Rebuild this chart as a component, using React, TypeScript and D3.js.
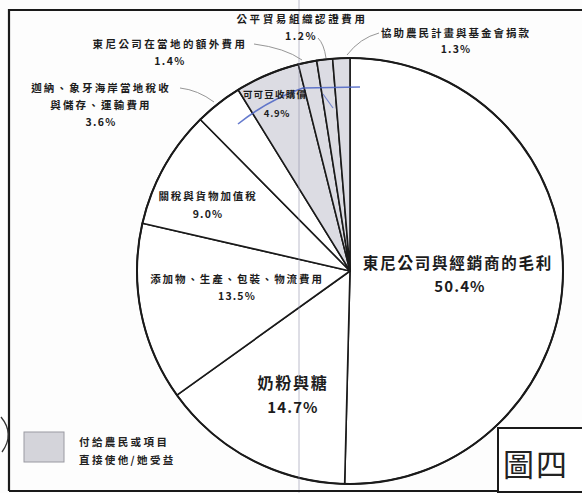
import React from "react";
import * as d3 from "d3";

// ---- data (clockwise from 12 o'clock) ----
const categories = [
  "東尼公司與經銷商的毛利",
  "奶粉與糖",
  "添加物、生產、包裝、物流費用",
  "關稅與貨物加值稅",
  "迦納、象牙海岸當地稅收與儲存、運輸費用",
  "可可豆收購價",
  "東尼公司在當地的額外費用",
  "公平貿易組織認證費用",
  "協助農民計畫與基金會捐款",
];
const categoryLines = [
  ["東尼公司與經銷商的毛利"],
  ["奶粉與糖"],
  ["添加物、生產、包裝、物流費用"],
  ["關稅與貨物加值稅"],
  ["迦納、象牙海岸當地稅收", "與儲存、運輸費用"],
  ["可可豆收購價"],
  ["東尼公司在當地的額外費用"],
  ["公平貿易組織認證費用"],
  ["協助農民計畫與基金會捐款"],
];
const values = [50.4, 14.7, 13.5, 9.0, 3.6, 4.9, 1.4, 1.2, 1.3];
const benefitsFarmers = [false, false, false, false, false, true, true, true, true];
const legendLines = ["付給農民或項目", "直接使他/她受益"];
const figureTitle = "圖四";

// ---- layout ----
const W = 582;
const H = 493;
const CX = 350;
const CY = 271;
const R = 213;
const FONT = "'Noto Sans CJK TC', 'Noto Sans CJK SC', sans-serif";

type LabelLayout = {
  x: number;
  y: number;
  fs: number;
  lh: number;
  px: number;
  py: number;
  pfs: number;
  ls: number;
  leader?: [number, number, number, number, number, number];
};

const labelLayout: LabelLayout[] = [
  { x: 458, y: 262, fs: 15.5, lh: 0, px: 460, py: 285, pfs: 15, ls: 1.8 },
  { x: 293, y: 382, fs: 16, lh: 0, px: 293, py: 406, pfs: 15, ls: 1.8 },
  { x: 237, y: 278, fs: 10.5, lh: 0, px: 237, py: 295, pfs: 10.5, ls: 1.9 },
  { x: 208, y: 195, fs: 10.5, lh: 0, px: 208, py: 213, pfs: 10.5, ls: 1.9 },
  { x: 101, y: 87, fs: 10.5, lh: 17, px: 101, py: 121, pfs: 10.5, ls: 2.2, leader: [180, 88, 198, 90, 214, 102] },
  { x: 275, y: 94, fs: 9.5, lh: 0, px: 277, py: 113, pfs: 9.5, ls: 1.2 },
  { x: 170, y: 43, fs: 10.5, lh: 0, px: 170, py: 60, pfs: 10.5, ls: 2.4, leader: [254, 44, 285, 48, 302, 60] },
  { x: 302, y: 18, fs: 10.5, lh: 0, px: 301, py: 35, pfs: 10.5, ls: 2.6, leader: [318, 38, 324, 44, 326, 58] },
  { x: 456, y: 32, fs: 10.5, lh: 0, px: 456, py: 48, pfs: 10.5, ls: 2.0, leader: [379, 33, 360, 38, 347, 55] },
];

export default function App() {
  const pie = d3
    .pie<number>()
    .sort(null)
    .startAngle(0)
    .endAngle(2 * Math.PI)
    .value((d) => d);
  const arcs = pie(values);
  const arcGen = d3.arc<d3.PieArcDatum<number>>().innerRadius(0).outerRadius(R);

  return (
    <svg
      width={W}
      height={H}
      viewBox={`0 0 ${W} ${H}`}
      style={{ position: "absolute", left: 0, top: 0, background: "#fdfdfd" }}
      fontFamily={FONT}
    >
      <rect x={0} y={0} width={W} height={H} fill="#fdfdfd" />

      {/* pie */}
      <g transform={`translate(${CX},${CY})`}>
        {arcs.map((a, i) => (
          <path
            key={categories[i]}
            d={arcGen(a) || ""}
            fill={benefitsFarmers[i] ? "#dcdce3" : "#ffffff"}
            stroke="#1a1a1a"
            strokeWidth={1.6}
            strokeLinejoin="round"
          />
        ))}
        <circle r={R} fill="none" stroke="#1a1a1a" strokeWidth={2} />
      </g>

      {/* scan artifact line */}
      <line x1={299} y1={0} x2={299} y2={H} stroke="#8c8ca4" strokeWidth={0.8} opacity={0.7} />

      {/* pen mark */}
      <path d="M238,124 Q268,100 303,88 L360,87" fill="none" stroke="#4a63c4" strokeWidth={1.6} opacity={0.85} />
      <path d="M323,94 L333,108" fill="none" stroke="#4a63c4" strokeWidth={1.2} opacity={0.7} />

      {/* leaders */}
      {labelLayout.map((l, i) =>
        l.leader ? (
          <path
            key={"ld" + i}
            d={`M${l.leader[0]},${l.leader[1]} Q${l.leader[2]},${l.leader[3]} ${l.leader[4]},${l.leader[5]}`}
            fill="none"
            stroke="#8a8a8a"
            strokeWidth={0.9}
          />
        ) : null
      )}

      {/* labels */}
      {labelLayout.map((l, i) => (
        <g key={"lb" + i} fill="#1c1c1c" fontWeight={700} textAnchor="middle" dominantBaseline="central">
          {categoryLines[i].map((t, j) => (
            <text key={j} x={l.x} y={l.y + j * l.lh} fontSize={l.fs} letterSpacing={l.ls}>
              {t}
            </text>
          ))}
          <text x={l.px} y={l.py} fontSize={l.pfs} letterSpacing={l.ls * 0.6}>
            {values[i].toFixed(1) + "%"}
          </text>
        </g>
      ))}

      {/* frame */}
      <path d={`M9,${H - 2} L9,10 L${W},10`} fill="none" stroke="#1a1a1a" strokeWidth={2.2} />
      <line x1={9} y1={491} x2={W} y2={491} stroke="#1a1a1a" strokeWidth={2} />

      {/* legend */}
      <rect x={24} y={432} width={40} height={30} fill="#d4d4da" stroke="#9a9aa2" strokeWidth={1} />
      {legendLines.map((t, j) => (
        <text
          key={t}
          x={79}
          y={441 + j * 18}
          fontSize={10.5}
          fontWeight={700}
          letterSpacing={2.4}
          fill="#222"
          dominantBaseline="central"
        >
          {t}
        </text>
      ))}

      {/* figure tag box */}
      <rect x={498} y={428} width={W - 498 + 4} height={64} fill="#ffffff" stroke="#1a1a1a" strokeWidth={2} />
      <text
        x={536}
        y={462}
        fontSize={31}
        textAnchor="middle"
        dominantBaseline="central"
        fill="#222"
        fontWeight={400}
        letterSpacing={2}
      >
        {figureTitle}
      </text>

      {/* margin mark */}
      <path d="M1,417 Q15,434 2,452" fill="none" stroke="#333" strokeWidth={1.3} />
    </svg>
  );
}
